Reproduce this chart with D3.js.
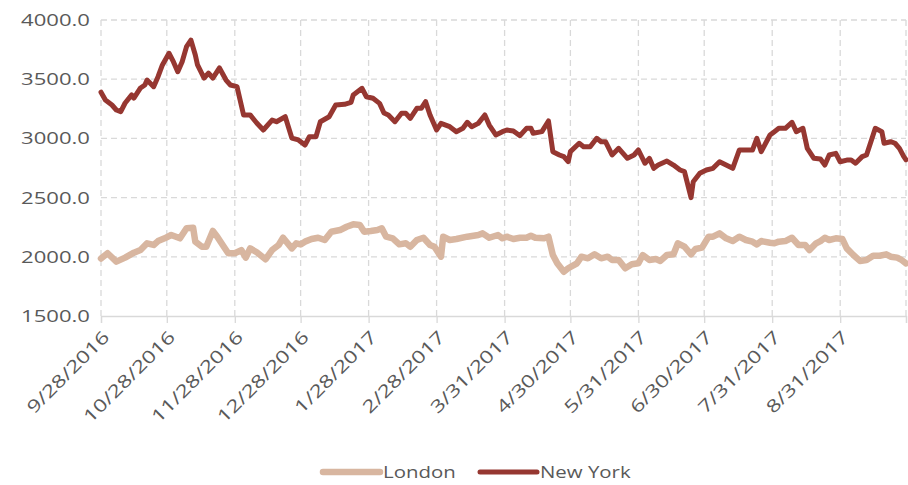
<!DOCTYPE html>
<html>
<head>
<meta charset="utf-8">
<script src="https://cdn.jsdelivr.net/npm/d3@7"></script>
<style>
  body { margin: 0; background: #fff; }
  text { font-family: "Open Sans", sans-serif; fill: #595959; }
</style>
</head>
<body>
<div id="chart"></div>
<script>
var nyDates = ["2016-09-28","2016-09-30","2016-10-03","2016-10-05","2016-10-07","2016-10-09","2016-10-12","2016-10-13","2016-10-16","2016-10-18",
  "2016-10-19","2016-10-22","2016-10-24","2016-10-26","2016-10-29","2016-10-31","2016-11-02","2016-11-04","2016-11-06","2016-11-08",
  "2016-11-10","2016-11-11","2016-11-14","2016-11-16","2016-11-18","2016-11-21","2016-11-24","2016-11-26","2016-11-29","2016-12-02",
  "2016-12-05","2016-12-08","2016-12-11","2016-12-15","2016-12-17","2016-12-21","2016-12-24","2016-12-27","2016-12-30","2017-01-01",
  "2017-01-04","2017-01-06","2017-01-10","2017-01-13","2017-01-17","2017-01-20","2017-01-21","2017-01-25","2017-01-27","2017-01-30",
  "2017-02-02","2017-02-04","2017-02-06","2017-02-09","2017-02-12","2017-02-14","2017-02-16","2017-02-19","2017-02-21","2017-02-23",
  "2017-02-25","2017-02-28","2017-03-02","2017-03-06","2017-03-09","2017-03-12","2017-03-14","2017-03-16","2017-03-19","2017-03-22",
  "2017-03-24","2017-03-27","2017-03-30","2017-04-01","2017-04-04","2017-04-07","2017-04-10","2017-04-12","2017-04-13","2017-04-17",
  "2017-04-20","2017-04-22","2017-04-25","2017-04-27","2017-04-29","2017-04-30","2017-05-04","2017-05-06","2017-05-09","2017-05-12",
  "2017-05-14","2017-05-16","2017-05-19","2017-05-22","2017-05-24","2017-05-26","2017-05-29","2017-05-31","2017-06-03","2017-06-05",
  "2017-06-07","2017-06-09","2017-06-13","2017-06-16","2017-06-19","2017-06-21","2017-06-24","2017-06-25","2017-06-28","2017-07-01",
  "2017-07-04","2017-07-07","2017-07-10","2017-07-13","2017-07-16","2017-07-20","2017-07-22","2017-07-24","2017-07-26","2017-07-30",
  "2017-08-01","2017-08-03","2017-08-06","2017-08-09","2017-08-11","2017-08-14","2017-08-16","2017-08-19","2017-08-22","2017-08-24",
  "2017-08-26","2017-08-29","2017-08-31","2017-09-03","2017-09-05","2017-09-07","2017-09-10","2017-09-12","2017-09-14","2017-09-16",
  "2017-09-19","2017-09-20","2017-09-23","2017-09-25","2017-09-27","2017-09-29","2017-09-30"];
var nyValues = [3390,3324,3282,3240,3226,3299,3367,3341,3426,3451,
  3493,3437,3521,3620,3719,3648,3563,3648,3775,3830,
  3704,3620,3510,3552,3510,3595,3493,3451,3437,3198,
  3198,3130,3071,3155,3141,3183,3003,2987,2944,3014,
  3014,3141,3183,3282,3288,3305,3367,3423,3352,3339,
  3296,3214,3198,3141,3212,3212,3170,3254,3254,3310,
  3198,3071,3127,3099,3057,3085,3136,3099,3127,3198,
  3113,3029,3057,3071,3062,3023,3085,3085,3043,3057,
  3147,2888,2860,2846,2803,2888,2959,2930,2930,3001,
  2972,2972,2860,2916,2874,2832,2860,2902,2790,2832,
  2747,2775,2809,2775,2733,2719,2500,2634,2705,2733,
  2747,2803,2775,2747,2902,2902,2902,3001,2888,3029,
  3057,3085,3085,3136,3057,3085,2916,2832,2826,2775,
  2860,2874,2803,2817,2817,2790,2846,2860,2972,3085,
  3057,2959,2972,2959,2916,2846,2820];

var londonDates = ["2016-09-28","2016-10-01","2016-10-05","2016-10-09","2016-10-13","2016-10-16","2016-10-19","2016-10-22","2016-10-24","2016-10-27",
  "2016-10-30","2016-11-03","2016-11-06","2016-11-09","2016-11-10","2016-11-13","2016-11-15","2016-11-18","2016-11-20","2016-11-23",
  "2016-11-25","2016-11-28","2016-12-01","2016-12-03","2016-12-05","2016-12-08","2016-12-12","2016-12-15","2016-12-18","2016-12-20",
  "2016-12-24","2016-12-26","2016-12-28","2016-12-30","2017-01-02","2017-01-05","2017-01-08","2017-01-11","2017-01-15","2017-01-18",
  "2017-01-21","2017-01-24","2017-01-26","2017-01-29","2017-02-01","2017-02-03","2017-02-05","2017-02-08","2017-02-11","2017-02-14",
  "2017-02-16","2017-02-19","2017-02-22","2017-02-25","2017-02-27","2017-03-02","2017-03-03","2017-03-06","2017-03-09","2017-03-14",
  "2017-03-19","2017-03-21","2017-03-24","2017-03-28","2017-03-30","2017-04-01","2017-04-04","2017-04-07","2017-04-10","2017-04-12",
  "2017-04-14","2017-04-18","2017-04-20","2017-04-22","2017-04-24","2017-04-27","2017-04-29","2017-05-03","2017-05-05","2017-05-08",
  "2017-05-11","2017-05-14","2017-05-17","2017-05-19","2017-05-22","2017-05-25","2017-05-28","2017-05-31","2017-06-02","2017-06-05",
  "2017-06-08","2017-06-10","2017-06-13","2017-06-16","2017-06-18","2017-06-21","2017-06-24","2017-06-26","2017-06-29","2017-07-02",
  "2017-07-04","2017-07-07","2017-07-10","2017-07-13","2017-07-16","2017-07-19","2017-07-22","2017-07-24","2017-07-26","2017-07-30",
  "2017-08-01","2017-08-03","2017-08-06","2017-08-09","2017-08-12","2017-08-15","2017-08-17","2017-08-20","2017-08-22","2017-08-24",
  "2017-08-26","2017-08-29","2017-09-01","2017-09-03","2017-09-06","2017-09-09","2017-09-12","2017-09-15","2017-09-18","2017-09-21",
  "2017-09-23","2017-09-26","2017-09-28","2017-09-30"];
var londonValues = [1985,2030,1959,1993,2035,2057,2114,2100,2133,2156,
  2184,2156,2241,2246,2128,2085,2085,2218,2170,2085,
  2030,2030,2057,1993,2071,2038,1979,2057,2100,2161,
  2071,2114,2105,2128,2150,2161,2142,2212,2226,2254,
  2274,2269,2212,2218,2226,2240,2170,2156,2105,2114,
  2085,2142,2161,2100,2085,2001,2170,2142,2150,2170,
  2184,2198,2161,2184,2156,2170,2150,2161,2161,2178,
  2161,2156,2170,2015,1945,1874,1903,1945,2001,1987,
  2021,1987,2001,1973,1973,1903,1937,1945,2015,1973,
  1981,1965,2015,2021,2114,2085,2021,2066,2077,2170,
  2170,2198,2156,2133,2170,2142,2128,2105,2133,2119,
  2114,2128,2133,2161,2100,2100,2057,2114,2133,2161,
  2142,2156,2150,2071,2015,1965,1973,2009,2009,2021,
  2001,1993,1973,1945];

var seriesNames = ["London", "New York"];
var seriesColors = ["#d8b6a0", "#963731"];
var yTicks = [1500, 2000, 2500, 3000, 3500, 4000];
var xTickDates = ["2016-09-28","2016-10-28","2016-11-28","2016-12-28","2017-01-28","2017-02-28",
  "2017-03-31","2017-04-30","2017-05-31","2017-06-30","2017-07-31","2017-08-31"];
var xEndDate = "2017-09-30";

var width = 908, height = 485;
var margin = {top: 20, right: 2, bottom: 169, left: 101};

var parse = d3.timeParse("%Y-%m-%d");
var fmt = d3.timeFormat("%-m/%-d/%Y");

var series = [
  {name: seriesNames[0], color: seriesColors[0], width: 6.5,
   points: londonDates.map(function(d, i) { return {date: parse(d), value: londonValues[i]}; })},
  {name: seriesNames[1], color: seriesColors[1], width: 5,
   points: nyDates.map(function(d, i) { return {date: parse(d), value: nyValues[i]}; })}
];

var svg = d3.select("#chart").append("svg")
  .attr("width", width)
  .attr("height", height);

var x = d3.scaleTime()
  .domain([parse(xTickDates[0]), parse(xEndDate)])
  .range([margin.left, width - margin.right]);

var y = d3.scaleLinear()
  .domain([1500, 4000])
  .range([height - margin.bottom, margin.top]);

var gridDates = xTickDates.map(parse).concat([parse(xEndDate)]);

// dashed grid
svg.append("g")
  .selectAll("line.hgrid")
  .data(yTicks.slice(1))
  .enter().append("line")
  .attr("x1", margin.left).attr("x2", width - margin.right)
  .attr("y1", function(d) { return y(d); })
  .attr("y2", function(d) { return y(d); })
  .attr("stroke", "#d9d9d9").attr("stroke-width", 1.3)
  .attr("stroke-dasharray", "6,4");

svg.append("g")
  .selectAll("line.vgrid")
  .data(gridDates)
  .enter().append("line")
  .attr("x1", function(d) { return x(d); })
  .attr("x2", function(d) { return x(d); })
  .attr("y1", margin.top).attr("y2", y(1500))
  .attr("stroke", "#d9d9d9").attr("stroke-width", 1.3)
  .attr("stroke-dasharray", "6,4");

// x axis
var xAxis = d3.axisBottom(x)
  .tickValues(gridDates)
  .tickSize(7)
  .tickFormat("");

var gx = svg.append("g")
  .attr("transform", "translate(0," + y(1500) + ")")
  .call(xAxis);
gx.select(".domain").attr("stroke", "#d9d9d9").attr("stroke-width", 1.3);
gx.selectAll(".tick line").attr("stroke", "#d9d9d9").attr("stroke-width", 1.3);

// date labels, written wide like the original
svg.append("g")
  .selectAll("text")
  .data(xTickDates.map(parse))
  .enter().append("text")
  .attr("transform", function(d) {
    return "translate(" + (x(d) + 5) + "," + (y(1500) + 18) + ") rotate(-45) scale(1.3,1)";
  })
  .attr("text-anchor", "end")
  .attr("dy", "0.35em")
  .style("font-size", "17.5px")
  .text(function(d) { return fmt(d); });

// y labels
svg.append("g")
  .selectAll("text")
  .data(yTicks)
  .enter().append("text")
  .attr("transform", function(d) {
    return "translate(" + (margin.left - 11) + "," + y(d) + ") scale(1.3,1)";
  })
  .attr("text-anchor", "end")
  .attr("dy", "0.35em")
  .style("font-size", "17px")
  .text(function(d) { return d3.format(".1f")(d); });

// lines
var line = d3.line()
  .x(function(d) { return x(d.date); })
  .y(function(d) { return y(d.value); });

svg.append("g")
  .selectAll("path")
  .data(series)
  .enter().append("path")
  .attr("d", function(d) { return line(d.points); })
  .attr("fill", "none")
  .attr("stroke", function(d) { return d.color; })
  .attr("stroke-width", function(d) { return d.width; })
  .attr("stroke-linejoin", "round")
  .attr("stroke-linecap", "round");

// legend
var legendX = [323, 480];
var legend = svg.append("g")
  .selectAll("g")
  .data(series)
  .enter().append("g")
  .attr("transform", function(d, i) { return "translate(" + legendX[i] + ",472)"; });

legend.append("line")
  .attr("x1", 0).attr("x2", 57)
  .attr("stroke", function(d) { return d.color; })
  .attr("stroke-width", function(d) { return d.width; })
  .attr("stroke-linecap", "round");

legend.append("text")
  .attr("transform", "translate(60,0) scale(1.2,1)")
  .attr("dy", "0.35em")
  .style("font-size", "17px")
  .text(function(d) { return d.name; });
</script>
</body>
</html>
